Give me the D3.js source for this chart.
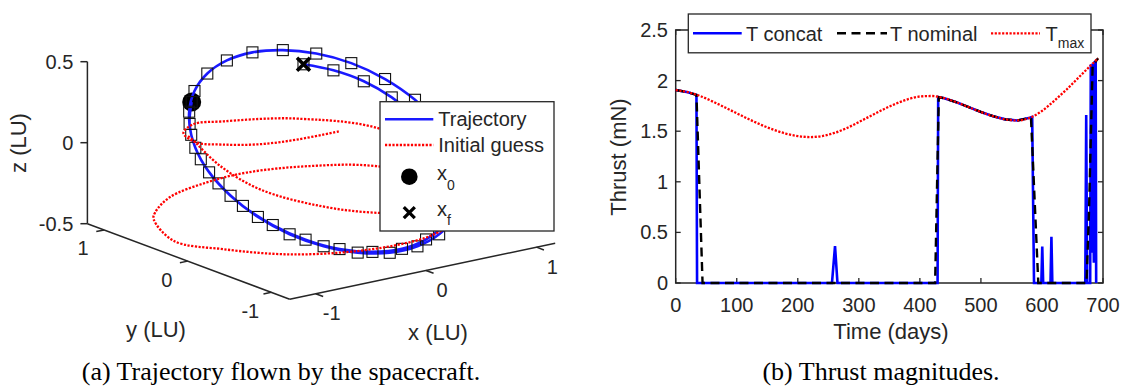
<!DOCTYPE html>
<html>
<head>
<meta charset="utf-8">
<script src="https://cdn.jsdelivr.net/npm/d3@7"></script>
<style>
  body { margin: 0; background: #fff; }
  svg text { font-family: "Liberation Sans", Arial, Helvetica, sans-serif; fill: #262626; }
</style>
</head>
<body>
<svg id="fig" width="1123" height="388"></svg>
<script>
// ---- panel (a): trajectory nodes (LU) ----
const trajX = [-0.672,-0.828,-0.938,-0.993,-0.984,-0.915,-0.789,-0.612,-0.398,-0.160,0.088,0.327,0.548,0.739,0.891,0.992,1.030,1.010,0.920,0.770,0.570,0.342,0.101,-0.142,-0.373,-0.580,-0.753,-0.886,-0.971,-0.994,-0.956,-0.856,-0.705,-0.511,-0.284,-0.043,0.197,0.421,0.614,0.764,0.862,0.911,0.905,0.852,0.747,0.590,0.405];
const trajY = [0.696,0.515,0.301,0.064,-0.181,-0.417,-0.630,-0.803,-0.928,-0.997,-1.001,-0.945,-0.837,-0.682,-0.486,-0.257,-0.007,0.246,0.485,0.691,0.846,0.945,0.990,0.975,0.904,0.784,0.619,0.419,0.192,-0.050,-0.292,-0.517,-0.710,-0.860,-0.954,-0.989,-0.960,-0.874,-0.738,-0.557,-0.348,-0.126,0.098,0.315,0.511,0.667,0.781];
const trajZ = [0.267,0.189,0.099,0.001,-0.098,-0.193,-0.277,-0.343,-0.389,-0.411,-0.406,-0.377,-0.328,-0.260,-0.176,-0.080,0.023,0.126,0.221,0.301,0.359,0.394,0.406,0.394,0.360,0.305,0.234,0.149,0.054,-0.045,-0.143,-0.232,-0.307,-0.364,-0.396,-0.405,-0.387,-0.346,-0.286,-0.208,-0.120,-0.029,0.063,0.150,0.227,0.287,0.329];

// initial guess (LU)
const guessX = [-0.897,-0.941,-0.997,-0.904,-0.619,-0.256,0.229,0.721,1.032,0.926,0.612,0.197,-0.146,-0.575,-0.878,-0.981,-1.214,-1.174,-0.917,-0.529,-0.153,0.083,0.635,0.997,0.894,0.463,0.266,-0.140,-0.519,-0.756,-0.971,-0.986,-0.891,-0.710,-0.446];
const guessY = [0.442,0.339,-0.073,-0.428,-0.786,-0.967,-1.004,-0.777,-0.318,0.594,0.974,1.184,1.211,1.087,0.861,0.743,0.197,-0.349,-0.805,-1.088,-1.190,-1.197,-0.983,-0.511,0.551,0.920,0.995,1.015,0.878,0.684,0.241,-0.084,-0.409,-0.631,-0.781];
const guessZ = [0.138,0.146,0.068,-0.022,-0.098,-0.156,-0.21,-0.26,-0.30,-0.339,-0.366,-0.387,-0.404,-0.41,-0.416,-0.42,-0.415,-0.368,-0.349,-0.33,-0.314,-0.295,-0.25,-0.18,-0.089,-0.042,-0.027,0.01,0.073,0.09,0.148,0.2,0.251,0.298,0.34];

const xTicks3 = [-1, 0, 1];
const yTicks3 = [-1, 0, 1];
const zTicks3 = [-0.5, 0, 0.5];

// ---- panel (b): thrust (mN) vs time (days) ----
const tmaxT = [0,20,40,60,80,100,120,140,160,180,200,220,240,260,280,300,320,340,360,380,400,420,440,460,480,500,520,540,560,580,600,620,640,660,680,692];
const tmaxV = [1.907,1.885,1.848,1.795,1.737,1.677,1.618,1.563,1.515,1.477,1.452,1.442,1.452,1.483,1.53,1.59,1.653,1.715,1.77,1.815,1.843,1.848,1.826,1.786,1.738,1.69,1.648,1.617,1.606,1.632,1.70,1.80,1.91,2.03,2.15,2.22];
const nomT = [0,20,34,44,425,431,440,460,480,500,520,540,560,580,582,594,673,677,683,692];
const nomV = [1.907,1.885,1.859,0,0,1.836,1.826,1.786,1.738,1.69,1.648,1.617,1.606,1.632,1.636,0,0,0.69,2.15,2.22];
const concatT = [0,20,34,35,256,261,265,429,430,440,460,480,500,520,540,560,580,584,587,599,600.5,602,614,615.5,617,671,672.5,674,679,680,682,683,685,686,688,688.8];
const concatV = [1.907,1.885,1.859,0,0,0.365,0,0,1.837,1.826,1.786,1.738,1.69,1.648,1.617,1.606,1.632,1.64,0,0,0.36,0,0,0.457,0,0,1.66,0,0,2.16,0.3,2.17,0.2,2.18,2.19,0];
const timeTicks = [0,100,200,300,400,500,600,700];
const thrustTicks = [0,0.5,1,1.5,2,2.5];

const svg = d3.select('#fig');
const axisCol = '#262626';
const serif = '"Liberation Serif", "Times New Roman", Times, serif';
const redDots = '2.2,1.5';

// ================= panel (a) =================
const xLim = [-1.235, 1.17], yLim = [-1.22, 1.2], zLim = [-0.5, 0.5];
const xs = d3.scaleLinear().domain(xLim).range([0, 1]);
const ys = d3.scaleLinear().domain(yLim).range([0, 1]);
const zs = d3.scaleLinear().domain(zLim).range([0, 1]);
// view: screen position of box corner (xmin,ymin,zmin) and the three box edges
const corner = [289.7, 299.2];
const ex = [265.5, -56.0], ey = [-202.3, -75.5], ez = [0, -162];
function proj(x, y, z) {
  const u = xs(x), v = ys(y), w = zs(z);
  return [corner[0] + u*ex[0] + v*ey[0] + w*ez[0],
          corner[1] + u*ex[1] + v*ey[1] + w*ez[1]];
}

const ga = svg.append('g');
const seg = (a, b) => ga.append('line')
  .attr('x1', a[0]).attr('y1', a[1]).attr('x2', b[0]).attr('y2', b[1])
  .attr('stroke', axisCol).attr('stroke-width', 1.5);

// axis lines
seg(proj(xLim[0], yLim[1], zLim[0]), proj(xLim[0], yLim[1], zLim[1]));
seg(proj(xLim[0], yLim[0], zLim[0]), proj(xLim[0], yLim[1], zLim[0]));
seg(proj(xLim[0], yLim[0], zLim[0]), proj(xLim[1], yLim[0], zLim[0]));

// ticks + labels
xTicks3.forEach(t => {
  const p = proj(t, yLim[0], zLim[0]);
  seg(p, proj(t, yLim[0] - 0.09, zLim[0]));
  ga.append('text').attr('x', p[0] + 16).attr('y', p[1] + 19.6).attr('dy', '0.35em')
    .attr('text-anchor', 'middle').style('font-size', '20px').text(t);
});
yTicks3.forEach(t => {
  const p = proj(xLim[0], t, zLim[0]);
  seg(p, proj(xLim[0] - 0.071, t, zLim[0]));
  ga.append('text').attr('x', p[0] - 21).attr('y', p[1] + 18.5).attr('dy', '0.35em')
    .attr('text-anchor', 'middle').style('font-size', '20px').text(t);
});
zTicks3.forEach(t => {
  const p = proj(xLim[0], yLim[1], t);
  seg(p, [p[0] - 7, p[1]]);
  ga.append('text').attr('x', 73.3).attr('y', p[1]).attr('dy', '0.35em')
    .attr('text-anchor', 'end').style('font-size', '20px').text(t);
});

ga.append('text').attr('x', 438).attr('y', 340).attr('text-anchor', 'middle')
  .style('font-size', '22px').text('x (LU)');
ga.append('text').attr('x', 156).attr('y', 337).attr('text-anchor', 'middle')
  .style('font-size', '22px').text('y (LU)');
ga.append('text').attr('transform', 'translate(26,143) rotate(-90)').attr('text-anchor', 'middle')
  .style('font-size', '22px').text('z (LU)');

const curve3 = d3.line().curve(d3.curveCatmullRom.alpha(0.5));
const trajPts = trajX.map((x, i) => proj(x, trajY[i], trajZ[i]));
const guessPts = guessX.map((x, i) => proj(x, guessY[i], guessZ[i]));

// start marker
const p0 = trajPts[0];
ga.append('circle').attr('cx', p0[0]).attr('cy', p0[1]).attr('r', 9.5).attr('fill', '#000');

ga.append('path').attr('d', curve3(trajPts)).attr('fill', 'none')
  .attr('stroke', '#1a1aff').attr('stroke-width', 2.6);

ga.selectAll('rect.node').data(trajPts).enter().append('rect')
  .attr('class', 'node')
  .attr('x', d => d[0] - 5.5).attr('y', d => d[1] - 5.5)
  .attr('width', 11).attr('height', 11)
  .attr('fill', 'none').attr('stroke', '#111').attr('stroke-width', 1.1);

ga.append('path').attr('d', curve3(guessPts)).attr('fill', 'none')
  .attr('stroke', '#ff0000').attr('stroke-width', 2.3).attr('stroke-dasharray', redDots);

// end marker
function cross(g, c, h, w) {
  g.append('path')
    .attr('d', `M${c[0]-h},${c[1]-h}L${c[0]+h},${c[1]+h}M${c[0]-h},${c[1]+h}L${c[0]+h},${c[1]-h}`)
    .attr('stroke', '#000').attr('stroke-width', w).attr('fill', 'none');
}
cross(ga, trajPts[trajPts.length - 1], 6.5, 3.5);

// legend (a)
const la = svg.append('g');
la.append('rect').attr('x', 380).attr('y', 101.7).attr('width', 174).attr('height', 129.3)
  .attr('fill', '#fff').attr('stroke', axisCol).attr('stroke-width', 1.3);
la.append('line').attr('x1', 385).attr('x2', 433.3).attr('y1', 119.3).attr('y2', 119.3)
  .attr('stroke', '#1a1aff').attr('stroke-width', 2.6);
la.append('text').attr('x', 438.3).attr('y', 126).style('font-size', '20px').text('Trajectory');
la.append('line').attr('x1', 385).attr('x2', 433.3).attr('y1', 145).attr('y2', 145)
  .attr('stroke', '#ff0000').attr('stroke-width', 2.3).attr('stroke-dasharray', redDots);
la.append('text').attr('x', 438.3).attr('y', 151.5).style('font-size', '20px').text('Initial guess');
la.append('circle').attr('cx', 409.3).attr('cy', 176.7).attr('r', 8.3).attr('fill', '#000');
const t0 = la.append('text').attr('x', 437).attr('y', 180).style('font-size', '20px').text('x');
t0.append('tspan').attr('dy', 10).style('font-size', '14px').text('0');
cross(la, [409.3, 212.7], 5.5, 3.3);
const tf = la.append('text').attr('x', 437).attr('y', 216).style('font-size', '20px').text('x');
tf.append('tspan').attr('dy', 9).style('font-size', '14px').text('f');

svg.append('text').attr('x', 281).attr('y', 380).attr('text-anchor', 'middle')
  .style('font-family', serif).style('font-size', '26px').style('fill', '#000')
  .text('(a) Trajectory flown by the spacecraft.');

// ================= panel (b) =================
const x = d3.scaleLinear().domain([0, 700]).range([675.7, 1103]);
const y = d3.scaleLinear().domain([0, 2.5]).range([283, 30]);
const gb = svg.append('g');

gb.append('rect').attr('x', x(0)).attr('y', y(2.5))
  .attr('width', x(700) - x(0)).attr('height', y(0) - y(2.5))
  .attr('fill', 'none').attr('stroke', axisCol).attr('stroke-width', 1.5);

const tl = 5;
timeTicks.forEach(t => {
  gb.append('line').attr('x1', x(t)).attr('x2', x(t)).attr('y1', y(0)).attr('y2', y(0) - tl)
    .attr('stroke', axisCol).attr('stroke-width', 1.3);
  gb.append('line').attr('x1', x(t)).attr('x2', x(t)).attr('y1', y(2.5)).attr('y2', y(2.5) + tl)
    .attr('stroke', axisCol).attr('stroke-width', 1.3);
  gb.append('text').attr('x', x(t)).attr('y', 312).attr('text-anchor', 'middle')
    .style('font-size', '20px').text(t);
});
thrustTicks.forEach(v => {
  gb.append('line').attr('x1', x(0)).attr('x2', x(0) + tl).attr('y1', y(v)).attr('y2', y(v))
    .attr('stroke', axisCol).attr('stroke-width', 1.3);
  gb.append('line').attr('x1', x(700)).attr('x2', x(700) - tl).attr('y1', y(v)).attr('y2', y(v))
    .attr('stroke', axisCol).attr('stroke-width', 1.3);
  gb.append('text').attr('x', 668).attr('y', y(v)).attr('dy', '0.35em').attr('text-anchor', 'end')
    .style('font-size', '20px').text(v);
});

gb.append('text').attr('x', 891).attr('y', 339).attr('text-anchor', 'middle')
  .style('font-size', '22px').text('Time (days)');
gb.append('text').attr('transform', 'translate(626,157) rotate(-90)').attr('text-anchor', 'middle')
  .style('font-size', '22px').text('Thrust (mN)');

const lin = d3.line().x(d => x(d[0])).y(d => y(d[1]));
const smooth = d3.line().x(d => x(d[0])).y(d => y(d[1])).curve(d3.curveMonotoneX);

gb.append('path').attr('d', lin(concatT.map((t, i) => [t, concatV[i]])))
  .attr('fill', 'none').attr('stroke', '#0000ff').attr('stroke-width', 2.6);
gb.append('path').attr('d', lin(nomT.map((t, i) => [t, nomV[i]])))
  .attr('fill', 'none').attr('stroke', '#000').attr('stroke-width', 2.4)
  .attr('stroke-dasharray', '9,5.5');
gb.append('path').attr('d', smooth(tmaxT.map((t, i) => [t, tmaxV[i]])))
  .attr('fill', 'none').attr('stroke', '#ff0000').attr('stroke-width', 2.3)
  .attr('stroke-dasharray', redDots);

// legend (b)
const lb = svg.append('g');
lb.append('rect').attr('x', 688.3).attr('y', 14).attr('width', 402.7).attr('height', 38.8)
  .attr('fill', '#fff').attr('stroke', axisCol).attr('stroke-width', 1.3);
lb.append('line').attr('x1', 693).attr('x2', 741.7).attr('y1', 33.3).attr('y2', 33.3)
  .attr('stroke', '#0000ff').attr('stroke-width', 2.6);
lb.append('text').attr('x', 746).attr('y', 41).style('font-size', '20px').text('T concat');
lb.append('line').attr('x1', 837).attr('x2', 887).attr('y1', 33.3).attr('y2', 33.3)
  .attr('stroke', '#000').attr('stroke-width', 2.4).attr('stroke-dasharray', '9,5.5');
lb.append('text').attr('x', 890).attr('y', 41).style('font-size', '20px').text('T nominal');
lb.append('line').attr('x1', 991).attr('x2', 1040).attr('y1', 33.3).attr('y2', 33.3)
  .attr('stroke', '#ff0000').attr('stroke-width', 2.3).attr('stroke-dasharray', redDots);
const tm = lb.append('text').attr('x', 1045.6).attr('y', 41).style('font-size', '20px').text('T');
tm.append('tspan').attr('dy', 7.3).style('font-size', '14px').text('max');

svg.append('text').attr('x', 881).attr('y', 380).attr('text-anchor', 'middle')
  .style('font-family', serif).style('font-size', '26px').style('fill', '#000')
  .text('(b) Thrust magnitudes.');
</script>
</body>
</html>
